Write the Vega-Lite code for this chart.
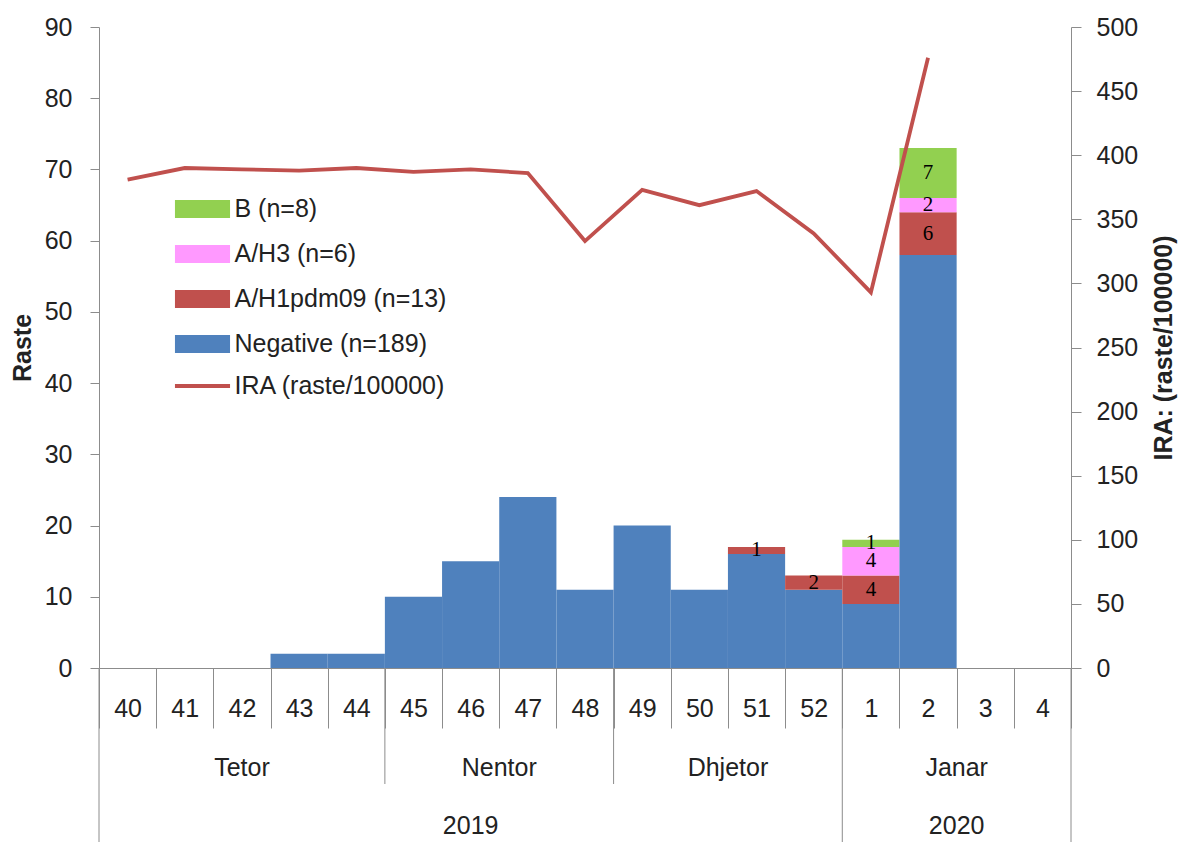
{
  "$schema": "https://vega.github.io/schema/vega-lite/v6.json",
  "width": 972,
  "height": 641,
  "autosize": {"type": "none"},
  "padding": {"left": 99, "top": 27, "right": 111, "bottom": 174},
  "background": "white",
  "config": {
    "view": {"stroke": null},
    "font": "Liberation Sans",
    "axis": {"labelFont": "Liberation Sans", "titleFont": "Liberation Sans", "labelColor": "#222222", "titleColor": "#222222", "domainColor": "#8c8c8c", "tickColor": "#8c8c8c", "grid": false}
  },
  "datasets": {
    "counts": [
      {"week": "43", "type": "Negative (n=189)", "value": 2},
      {"week": "44", "type": "Negative (n=189)", "value": 2},
      {"week": "45", "type": "Negative (n=189)", "value": 10},
      {"week": "46", "type": "Negative (n=189)", "value": 15},
      {"week": "47", "type": "Negative (n=189)", "value": 24},
      {"week": "48", "type": "Negative (n=189)", "value": 11},
      {"week": "49", "type": "Negative (n=189)", "value": 20},
      {"week": "50", "type": "Negative (n=189)", "value": 11},
      {"week": "51", "type": "Negative (n=189)", "value": 16},
      {"week": "51", "type": "A/H1pdm09 (n=13)", "value": 1},
      {"week": "52", "type": "Negative (n=189)", "value": 11},
      {"week": "52", "type": "A/H1pdm09 (n=13)", "value": 2},
      {"week": "1", "type": "Negative (n=189)", "value": 9},
      {"week": "1", "type": "A/H1pdm09 (n=13)", "value": 4},
      {"week": "1", "type": "A/H3 (n=6)", "value": 4},
      {"week": "1", "type": "B (n=8)", "value": 1},
      {"week": "2", "type": "Negative (n=189)", "value": 58},
      {"week": "2", "type": "A/H1pdm09 (n=13)", "value": 6},
      {"week": "2", "type": "A/H3 (n=6)", "value": 2},
      {"week": "2", "type": "B (n=8)", "value": 7}
    ],
    "ira": [
      {"week": "40", "ira": 381, "series": "IRA (raste/100000)"},
      {"week": "41", "ira": 390, "series": "IRA (raste/100000)"},
      {"week": "42", "ira": 389, "series": "IRA (raste/100000)"},
      {"week": "43", "ira": 388, "series": "IRA (raste/100000)"},
      {"week": "44", "ira": 390, "series": "IRA (raste/100000)"},
      {"week": "45", "ira": 387, "series": "IRA (raste/100000)"},
      {"week": "46", "ira": 389, "series": "IRA (raste/100000)"},
      {"week": "47", "ira": 386, "series": "IRA (raste/100000)"},
      {"week": "48", "ira": 333, "series": "IRA (raste/100000)"},
      {"week": "49", "ira": 373, "series": "IRA (raste/100000)"},
      {"week": "50", "ira": 361, "series": "IRA (raste/100000)"},
      {"week": "51", "ira": 372, "series": "IRA (raste/100000)"},
      {"week": "52", "ira": 339, "series": "IRA (raste/100000)"},
      {"week": "1", "ira": 293, "series": "IRA (raste/100000)"},
      {"week": "2", "ira": 476, "series": "IRA (raste/100000)"}
    ],
    "separators": [
      {"week": "40", "top": 0, "depth": 3},
      {"week": "45", "top": 0, "depth": 2},
      {"week": "49", "top": 0, "depth": 2},
      {"week": "1", "top": 0, "depth": 3}
    ],
    "edge": [
      {"week": "4", "top": 0, "depth": 3}
    ],
    "labelsMid": [
      {"week": "42", "level": "muaj", "label": "Tetor"},
      {"week": "46", "level": "vit", "label": "2019"}
    ],
    "labelsEdge": [
      {"week": "47", "level": "muaj", "label": "Nentor"},
      {"week": "51", "level": "muaj", "label": "Dhjetor"},
      {"week": "3", "level": "muaj", "label": "Janar"},
      {"week": "3", "level": "vit", "label": "2020"}
    ]
  },
  "layer": [
    {
      "data": {"name": "counts"},
      "transform": [
        {"calculate": "indexof(['Negative (n=189)','A/H1pdm09 (n=13)','A/H3 (n=6)','B (n=8)'], datum.type)", "as": "k"},
        {"stack": "value", "groupby": ["week"], "sort": [{"field": "k", "order": "ascending"}], "as": ["v0", "v1"]}
      ],
      "mark": {"type": "bar", "strokeWidth": 0},
      "encoding": {
        "x": {
          "field": "week", "type": "nominal",
          "scale": {"domain": ["40","41","42","43","44","45","46","47","48","49","50","51","52","1","2","3","4"], "paddingInner": 0, "paddingOuter": 0},
          "axis": {"title": null, "labelAngle": 0, "tickBand": "extent", "tickSize": 60, "labelPadding": -20, "labelBaseline": "middle", "labelFontSize": 25}
        },
        "y": {
          "field": "v0", "type": "quantitative",
          "scale": {"domain": [0, 90], "nice": false},
          "axis": {"title": "Raste", "values": [0,10,20,30,40,50,60,70,80,90], "tickSize": 9, "labelPadding": 18, "labelFontSize": 25, "titleFontSize": 25, "titleFontWeight": "bold", "titlePadding": 9}
        },
        "y2": {"field": "v1"},
        "color": {
          "field": "type", "type": "nominal",
          "scale": {"domain": ["Negative (n=189)", "A/H1pdm09 (n=13)", "A/H3 (n=6)", "B (n=8)"], "range": ["#4F81BD", "#C0504D", "#FF99FF", "#92D050"]},
          "legend": {
            "orient": "none", "legendX": 91, "legendY": 169.5, "title": null,
            "values": ["B (n=8)", "A/H3 (n=6)", "A/H1pdm09 (n=13)", "Negative (n=189)"],
            "symbolType": "M-3.06,-1H3.06V1H-3.06Z", "symbolSize": 324, "symbolStrokeWidth": 0,
            "labelFontSize": 25, "labelFont": "Liberation Sans", "labelColor": "#222222", "labelOffset": 19.5, "rowPadding": 19, "padding": 0, "labelLimit": 400
          }
        }
      }
    },
    {
      "data": {"name": "counts"},
      "transform": [
        {"calculate": "indexof(['Negative (n=189)','A/H1pdm09 (n=13)','A/H3 (n=6)','B (n=8)'], datum.type)", "as": "k"},
        {"stack": "value", "groupby": ["week"], "sort": [{"field": "k", "order": "ascending"}], "as": ["v0", "v1"]},
        {"filter": "datum.k > 0"},
        {"calculate": "(datum.v0 + datum.v1) / 2", "as": "mid"}
      ],
      "mark": {"type": "text", "font": "Liberation Serif", "fontSize": 21, "color": "black", "baseline": "middle", "align": "center"},
      "encoding": {
        "x": {"field": "week", "type": "nominal"},
        "y": {"field": "mid", "type": "quantitative", "scale": {"domain": [0, 90], "nice": false}, "axis": null},
        "text": {"field": "value", "type": "quantitative"}
      }
    },
    {
      "data": {"name": "ira"},
      "mark": {"type": "line", "strokeWidth": 3.8, "strokeJoin": "miter"},
      "encoding": {
        "x": {"field": "week", "type": "nominal"},
        "y": {
          "field": "ira", "type": "quantitative",
          "scale": {"domain": [0, 500], "nice": false},
          "axis": {"orient": "right", "title": "IRA: (raste/100000)", "values": [0,50,100,150,200,250,300,350,400,450,500], "tickSize": 10, "labelPadding": 15, "labelFontSize": 25, "titleFontSize": 25, "titleFontWeight": "bold", "titlePadding": 14, "titleAngle": 270, "titleBaseline": "top"}
        },
        "stroke": {
          "field": "series",
          "type": "nominal",
          "scale": {"range": ["#C0504D"]},
          "legend": {
            "orient": "none", "legendX": 91, "legendY": 346.5, "title": null,
            "symbolType": "M-3.06,0H3.06", "symbolSize": 324, "symbolStrokeWidth": 3.8,
            "labelFontSize": 25, "labelFont": "Liberation Sans", "labelColor": "#222222", "labelOffset": 19.5, "padding": 0, "labelLimit": 400
          }
        }
      }
    },
    {
      "data": {"name": "separators"},
      "mark": {"type": "rule", "color": "#8c8c8c", "strokeWidth": 1},
      "encoding": {
        "x": {"field": "week", "type": "nominal", "bandPosition": 0},
        "y": {"field": "top", "type": "quantitative", "scale": {"domain": [0, 3], "range": [641, 815], "nice": false, "zero": false}, "axis": null},
        "y2": {"field": "depth"}
      }
    },
    {
      "data": {"name": "edge"},
      "mark": {"type": "rule", "color": "#8c8c8c", "strokeWidth": 1},
      "encoding": {
        "x": {"field": "week", "type": "nominal", "bandPosition": 1},
        "y": {"field": "top", "type": "quantitative", "scale": {"domain": [0, 3], "range": [641, 815], "nice": false, "zero": false}, "axis": null},
        "y2": {"field": "depth"}
      }
    },
    {
      "data": {"name": "labelsMid"},
      "mark": {"type": "text", "fontSize": 25, "font": "Liberation Sans", "color": "#222222", "baseline": "middle", "align": "center"},
      "encoding": {
        "x": {"field": "week", "type": "nominal", "bandPosition": 0.5},
        "y": {"field": "level", "type": "nominal", "scale": {"type": "point", "domain": ["muaj", "vit"], "range": [741, 799], "padding": 0}, "axis": null},
        "text": {"field": "label", "type": "nominal"}
      }
    },
    {
      "data": {"name": "labelsEdge"},
      "mark": {"type": "text", "fontSize": 25, "font": "Liberation Sans", "color": "#222222", "baseline": "middle", "align": "center"},
      "encoding": {
        "x": {"field": "week", "type": "nominal", "bandPosition": 0},
        "y": {"field": "level", "type": "nominal", "scale": {"type": "point", "domain": ["muaj", "vit"], "range": [741, 799], "padding": 0}, "axis": null},
        "text": {"field": "label", "type": "nominal"}
      }
    }
  ],
  "resolve": {"scale": {"y": "independent"}}
}
